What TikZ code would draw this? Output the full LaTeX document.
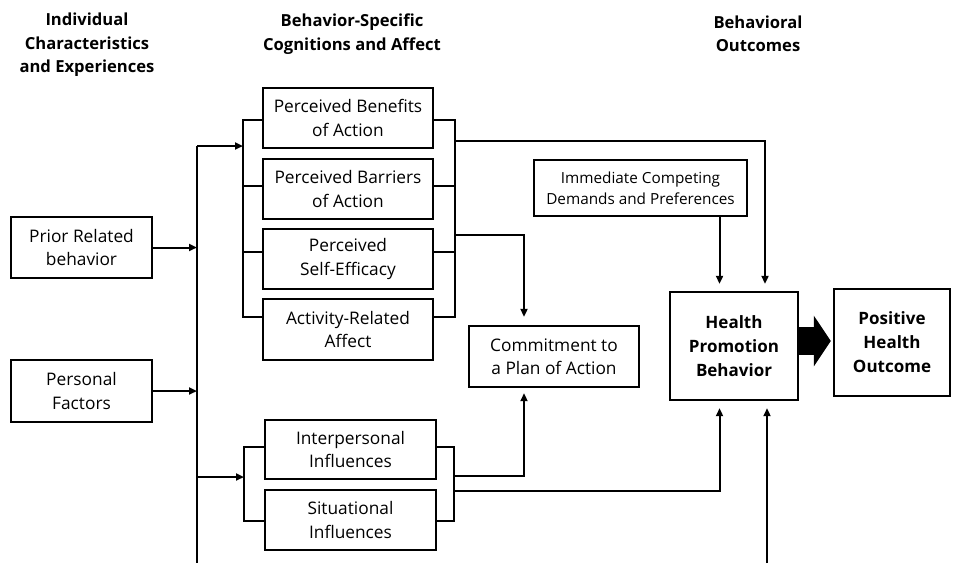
\documentclass[tikz,border=0pt]{standalone}
\usepackage{fontspec}
\setmainfont{Open Sans}
\usetikzlibrary{arrows.meta}
\begin{document}
\begin{tikzpicture}[x=1pt,y=-1pt,
 box/.style={draw, line width=2.4pt, inner sep=0pt, align=center, font=\fontsize{17.3}{23.5}\selectfont},
 con/.style={line width=2pt},
 arr/.style={con, -{Triangle[length=8pt,width=7pt]}},
 hdr/.style={align=center, font=\bfseries\fontsize{16.6}{23.5}\selectfont},
]
\useasboundingbox (0,0) rectangle (955,563);
% headers
\node[hdr] (h1) at (87,45) {Individual\\Characteristics\\and Experiences};
\node[hdr] (h2) at (352,34) {Behavior-Specific\\Cognitions and Affect};
\node[hdr] (h3) at (758,34) {Behavioral\\Outcomes};
% boxes
\node[box, minimum width=141, minimum height=61] (prior) at (81.5,247.5) {Prior Related\\behavior};
\node[box, minimum width=141, minimum height=62] (personal) at (81.5,391) {Personal\\Factors};
\node[box, minimum width=170, minimum height=60] (benefits) at (348,118) {Perceived Benefits\\of Action};
\node[box, minimum width=170, minimum height=60] (barriers) at (348,189) {Perceived Barriers\\of Action};
\node[box, minimum width=170, minimum height=60] (efficacy) at (348,259) {Perceived\\Self-Efficacy};
\node[box, minimum width=170, minimum height=61] (affect) at (348,329.5) {Activity-Related\\Affect};
\node[box, minimum width=171, minimum height=59] (inter) at (350.5,449.5) {Interpersonal\\Influences};
\node[box, minimum width=171, minimum height=60] (situ) at (350.5,520) {Situational\\Influences};
\node[box, minimum width=170, minimum height=61] (commit) at (554,356.5) {Commitment to\\a Plan of Action};
\node[box, minimum width=213, minimum height=56, font=\fontsize{15.3}{21}\selectfont] (imm) at (640.5,188) {Immediate Competing\\Demands and Preferences};
\node[box, minimum width=128, minimum height=108, font=\bfseries\fontsize{17}{24}\selectfont] (hpb) at (734,346) {Health\\Promotion\\Behavior};
\node[box, minimum width=116, minimum height=107, font=\bfseries\fontsize{17}{24}\selectfont] (pho) at (892,342.5) {Positive\\Health\\Outcome};
% trunk
\coordinate (tT) at (197,146);
\coordinate (tB) at (197,563);
\draw[con] (tT) -- (tB);
\draw[arr] (prior.east) -- (prior.east -| tT);
\draw[arr] (personal.east) -- (personal.east -| tT);
% top bracket
\coordinate (L1) at (243,120); \coordinate (L2) at (243,186);
\coordinate (L3) at (243,252); \coordinate (L4) at (243,317);
\coordinate (R1) at (455,120); \coordinate (R2) at (455,186);
\coordinate (R3) at (455,252); \coordinate (R4) at (455,317);
\draw[arr] (tT) -- (tT -| L1);
\draw[con] (benefits.west |- L1) -- (L1) -- (L4) -- (affect.west |- L4);
\draw[con] (L2) -- (barriers.west |- L2);
\draw[con] (L3) -- (efficacy.west |- L3);
\draw[con] (benefits.east |- R1) -- (R1) -- (R4) -- (affect.east |- R4);
\draw[con] (R2) -- (barriers.east |- R2);
\draw[con] (R3) -- (efficacy.east |- R3);
% outputs of top group
\coordinate (O1) at (455,141); \coordinate (O2) at (455,235);
\coordinate (xA) at (719.5,0); \coordinate (xB) at (765,0); \coordinate (xC) at (524,0);
\draw[arr, shorten >=7pt] (O1) -| (hpb.north -| xB);
\draw[arr, shorten >=8pt] (O2) -| (commit.north -| xC);
\draw[arr, shorten >=7pt] (imm.south -| xA) -- (hpb.north -| xA);
% bottom bracket
\coordinate (M) at (197,477);
\coordinate (BL1) at (244,447); \coordinate (BL2) at (244,521);
\coordinate (BR1) at (454,447); \coordinate (BR2) at (454,521);
\draw[arr] (M) -- (M -| BL1);
\draw[con] (inter.west |- BL1) -- (BL1) -- (BL2) -- (situ.west |- BL2);
\draw[con] (inter.east |- BR1) -- (BR1) -- (BR2) -- (situ.east |- BR2);
\coordinate (O3) at (454,476); \coordinate (O4) at (454,491);
\draw[arr, shorten >=5pt] (O3) -| (commit.south -| xC);
\draw[arr, shorten >=7pt] (O4) -| (hpb.south -| xA);
\coordinate (F) at (767,563);
\draw[arr, shorten >=7pt] (F) -- (hpb.south -| F);
% big arrow
\coordinate (ay) at (0,341);
\draw[line width=28pt, -{Triangle[length=17pt,width=50pt]}, shorten >=2pt] (hpb.east |- ay) -- (pho.west |- ay);
\end{tikzpicture}
\end{document}
